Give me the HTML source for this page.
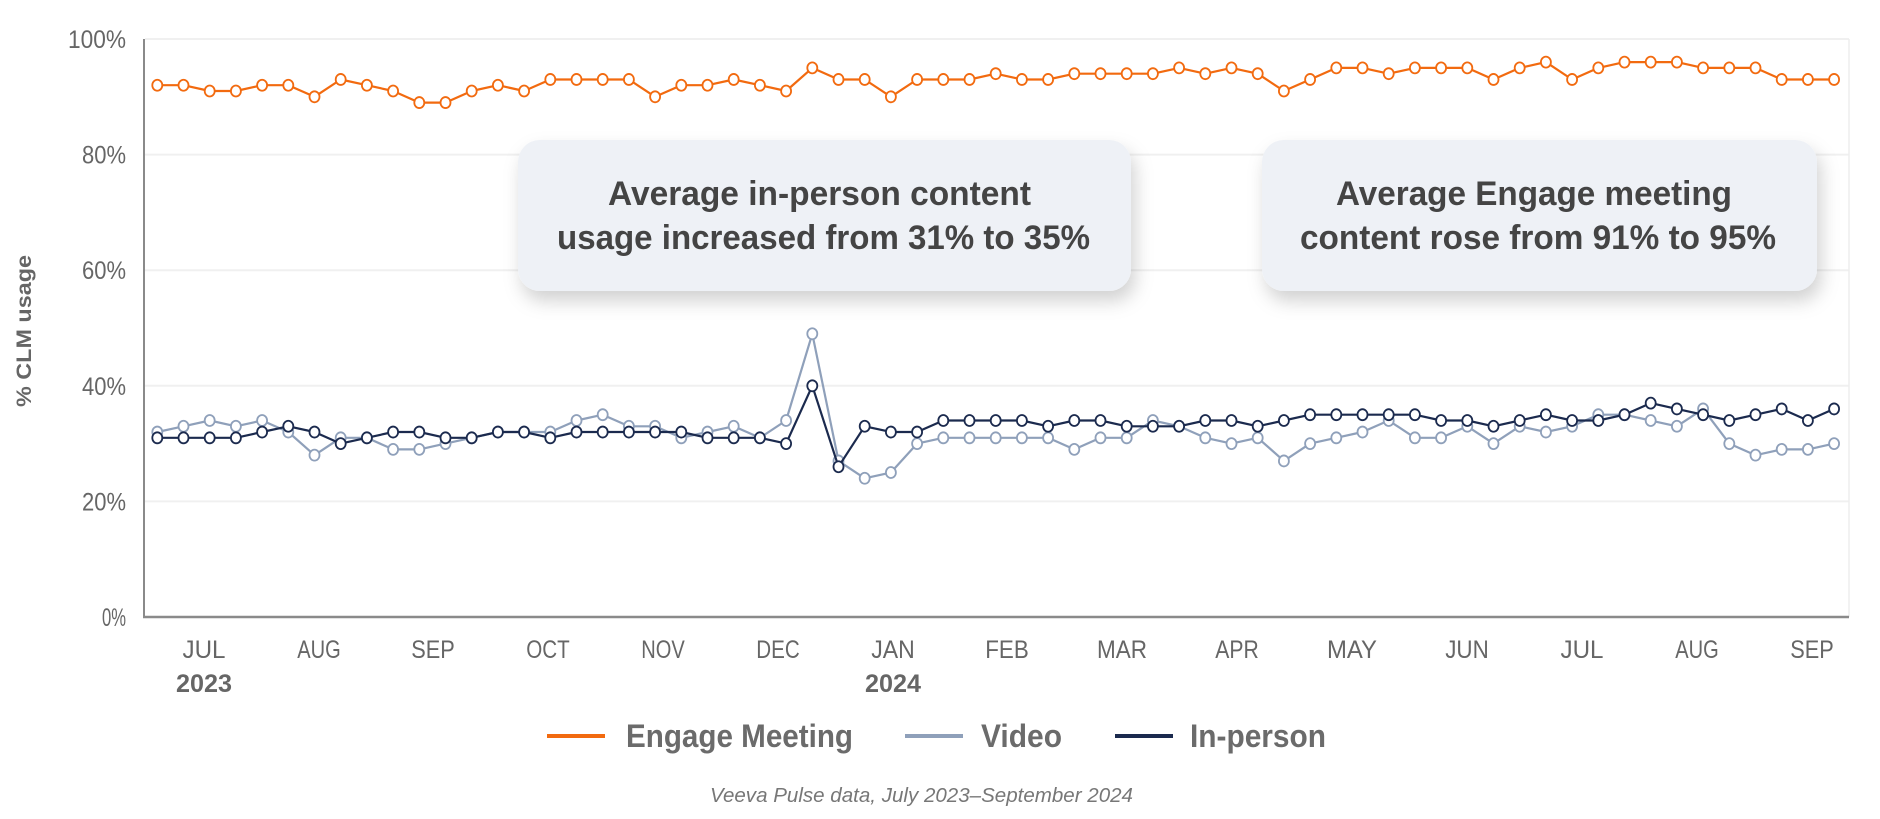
<!DOCTYPE html>
<html><head><meta charset="utf-8"><style>
html,body{margin:0;padding:0;background:#fff;}
svg{display:block;font-family:"Liberation Sans",sans-serif;}
</style></head><body>
<svg id="c" width="1880" height="819" viewBox="0 0 1880 819" xmlns="http://www.w3.org/2000/svg">
<defs>
<filter id="sh" x="-10%" y="-20%" width="125%" height="160%">
<feDropShadow dx="4" dy="10" stdDeviation="9" flood-color="#000" flood-opacity="0.18"/>
</filter>
</defs>
<g id="grid"></g>
<line x1="1849" y1="39" x2="1849" y2="617" stroke="#eeeeee" stroke-width="1.5"/>
<rect x="518" y="140" width="613" height="151" rx="22" fill="#eef1f6" filter="url(#sh)"/>
<rect x="1262" y="140" width="555" height="151" rx="22" fill="#eef1f6" filter="url(#sh)"/>
<g font-weight="bold" fill="#444" font-size="34">
<text x="608" y="205" textLength="423" lengthAdjust="spacingAndGlyphs">Average in-person content</text>
<text x="557" y="249" textLength="533" lengthAdjust="spacingAndGlyphs">usage increased from 31% to 35%</text>
<text x="1336" y="205" textLength="396" lengthAdjust="spacingAndGlyphs">Average Engage meeting</text>
<text x="1300" y="249" textLength="476" lengthAdjust="spacingAndGlyphs">content rose from 91% to 95%</text>
</g>
<g id="series"></g>
<line x1="144" y1="39" x2="144" y2="618" stroke="#8a8a8a" stroke-width="2"/>
<line x1="143" y1="617" x2="1849" y2="617" stroke="#8a8a8a" stroke-width="2.5"/>
<g id="labels" fill="#666"></g>
<text transform="translate(31,331) rotate(-90)" text-anchor="middle" font-weight="bold" font-size="21" fill="#666" textLength="152" lengthAdjust="spacingAndGlyphs">% CLM usage</text>
<g font-weight="bold" font-size="32" fill="#6b6b6b">
<line x1="547" y1="736" x2="605" y2="736" stroke="#f26a0f" stroke-width="4"/>
<text x="626" y="747" textLength="227" lengthAdjust="spacingAndGlyphs">Engage Meeting</text>
<line x1="905" y1="736" x2="963" y2="736" stroke="#8fa0ba" stroke-width="4"/>
<text x="981" y="747" textLength="81" lengthAdjust="spacingAndGlyphs">Video</text>
<line x1="1115" y1="736" x2="1173" y2="736" stroke="#1b2a4e" stroke-width="4"/>
<text x="1190" y="747" textLength="136" lengthAdjust="spacingAndGlyphs">In-person</text>
</g>
<text x="710" y="802" font-style="italic" font-size="20" fill="#777" textLength="423" lengthAdjust="spacingAndGlyphs">Veeva Pulse data, July 2023–September 2024</text>
</svg>
<script>
var NS="http://www.w3.org/2000/svg";
function el(p,t,a,txt){var e=document.createElementNS(NS,t);for(var k in a)e.setAttribute(k,a[k]);if(txt!=null)e.textContent=txt;document.getElementById(p).appendChild(e);return e;}
var Y0=617,S=5.78;function Y(v){return Y0-v*S;}
for(var g=20;g<=100;g+=20){el("grid","line",{x1:145,x2:1849,y1:Y(g),y2:Y(g),stroke:"#f0f0f0","stroke-width":2});}
var ticks=[[0,"0%"],[20,"20%"],[40,"40%"],[60,"60%"],[80,"80%"],[100,"100%"]];
ticks.forEach(function(t){var w=t[1].length==4?58:(t[1].length==3?44:24);
el("labels","text",{x:126,y:Y(t[0])+9,"text-anchor":"end","font-size":25,textLength:w,lengthAdjust:"spacingAndGlyphs"},t[1]);});
var months=[["JUL",204],["AUG",319],["SEP",433],["OCT",548],["NOV",663],["DEC",778],["JAN",893],["FEB",1007],["MAR",1122],["APR",1237],["MAY",1352],["JUN",1467],["JUL",1582],["AUG",1697],["SEP",1812]];
months.forEach(function(m){var w=m[0].length*14.5;if(m[0]=="JUL")w=43;if(m[0]=="MAY"||m[0]=="MAR")w=50;
el("labels","text",{x:m[1]-w/2,y:658,"font-size":25,textLength:w,lengthAdjust:"spacingAndGlyphs"},m[0]);});
el("labels","text",{x:204-28,y:692,"font-size":25,"font-weight":"bold",textLength:56,lengthAdjust:"spacingAndGlyphs"},"2023");
el("labels","text",{x:893-28,y:692,"font-size":25,"font-weight":"bold",textLength:56,lengthAdjust:"spacingAndGlyphs"},"2024");
var orange=[92,92,91,91,92,92,90,93,92,91,89,89,91,92,91,93,93,93,93,90,92,92,93,92,91,95,93,93,90,93,93,93,94,93,93,94,94,94,94,95,94,95,94,91,93,95,95,94,95,95,95,93,95,96,93,95,96,96,96,95,95,95,93,93,93];
var video=[32,33,34,33,34,32,28,31,31,29,29,30,31,32,32,32,34,35,33,33,31,32,33,31,34,49,27,24,25,30,31,31,31,31,31,29,31,31,34,33,31,30,31,27,30,31,32,34,31,31,33,30,33,32,33,35,35,34,33,36,30,28,29,29,30];
var inp=[31,31,31,31,32,33,32,30,31,32,32,31,31,32,32,31,32,32,32,32,32,31,31,31,30,40,26,33,32,32,34,34,34,33,34,34,33,33,33,34,34,33,34,35,35,35,35,35,34,34,33,34,35,34,34,35,37,36,35,34,35,36,34,36];
// fix inp length to 65 based on readings
inp=[31,31,31,31,32,33,32,30,31,32,32,31,31,32,32,31,32,32,32,32,32,31,31,31,30,40,26,33,32,32,34,34,34,34,33,34,34,33,33,33,34,34,33,34,35,35,35,35,35,34,34,33,34,35,34,34,35,37,36,35,34,35,36,34,36];
function X(i){return 157.3+i*26.2;}
function draw(d,c){var p="";d.forEach(function(v,i){p+=(i?"L":"M")+X(i).toFixed(1)+","+Y(v).toFixed(1);});
el("series","path",{d:p,fill:"none",stroke:c,"stroke-width":2.2,"stroke-linejoin":"round"});
d.forEach(function(v,i){el("series","ellipse",{cx:X(i),cy:Y(v),rx:5,ry:5.5,fill:"#fff",stroke:c,"stroke-width":1.8});});}
draw(video,"#8fa0ba");draw(inp,"#1b2a4e");draw(orange,"#f26a0f");
</script>
</body></html>
